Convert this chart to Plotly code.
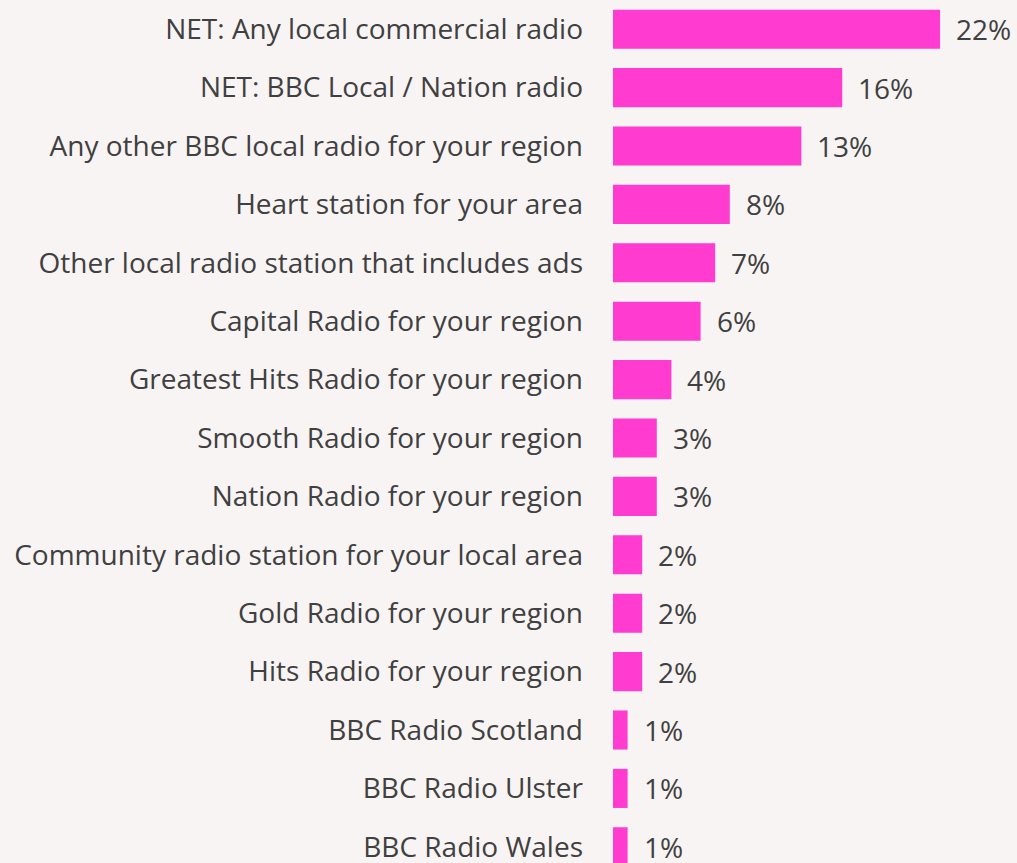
import plotly.graph_objects as go

categories = [
    "NET: Any local commercial radio",
    "NET: BBC Local / Nation radio",
    "Any other BBC local radio for your region",
    "Heart station for your area",
    "Other local radio station that includes ads",
    "Capital Radio for your region",
    "Greatest Hits Radio for your region",
    "Smooth Radio for your region",
    "Nation Radio for your region",
    "Community radio station for your local area",
    "Gold Radio for your region",
    "Hits Radio for your region",
    "BBC Radio Scotland",
    "BBC Radio Ulster",
    "BBC Radio Wales",
]
values = [22.4, 15.7, 12.9, 8.0, 7.0, 6.0, 4.0, 3.0, 3.0, 2.0, 2.0, 2.0, 1.0, 1.0, 1.0]
labels = ["22%", "16%", "13%", "8%", "7%", "6%", "4%", "3%", "3%", "2%", "2%", "2%", "1%", "1%", "1%"]

BG = "#F8F4F4"
TXT = "#404040"
FONT = "Open Sans"
FS = 28

fig = go.Figure(go.Bar(
    x=values, y=categories, orientation="h",
    marker=dict(color="#FF3BD0", line=dict(width=0)),
    width=0.67,
    cliponaxis=False,
))
for v, c, t in zip(values, categories, labels):
    fig.add_annotation(x=v, y=c, text=t, showarrow=False, xanchor="left",
                       xshift=14, font=dict(family=FONT, size=FS, color=TXT))
fig.update_layout(
    width=1017, height=876,
    margin=dict(l=613, r=0, t=0, b=0),
    paper_bgcolor=BG, plot_bgcolor=BG,
    showlegend=False,
    xaxis=dict(range=[0, 27.67], visible=False, showgrid=False, zeroline=False),
    yaxis=dict(autorange="reversed", showgrid=False, zeroline=False, showline=False,
               ticks="", ticklabelstandoff=29,
               tickfont=dict(family=FONT, size=FS, color=TXT)),
)
fig.write_html(
    "out.html",
    config={"displayModeBar": False},
    post_script="document.body.style.margin='0';document.body.style.overflow='hidden';"
                "document.body.style.background='" + BG + "';",
)
